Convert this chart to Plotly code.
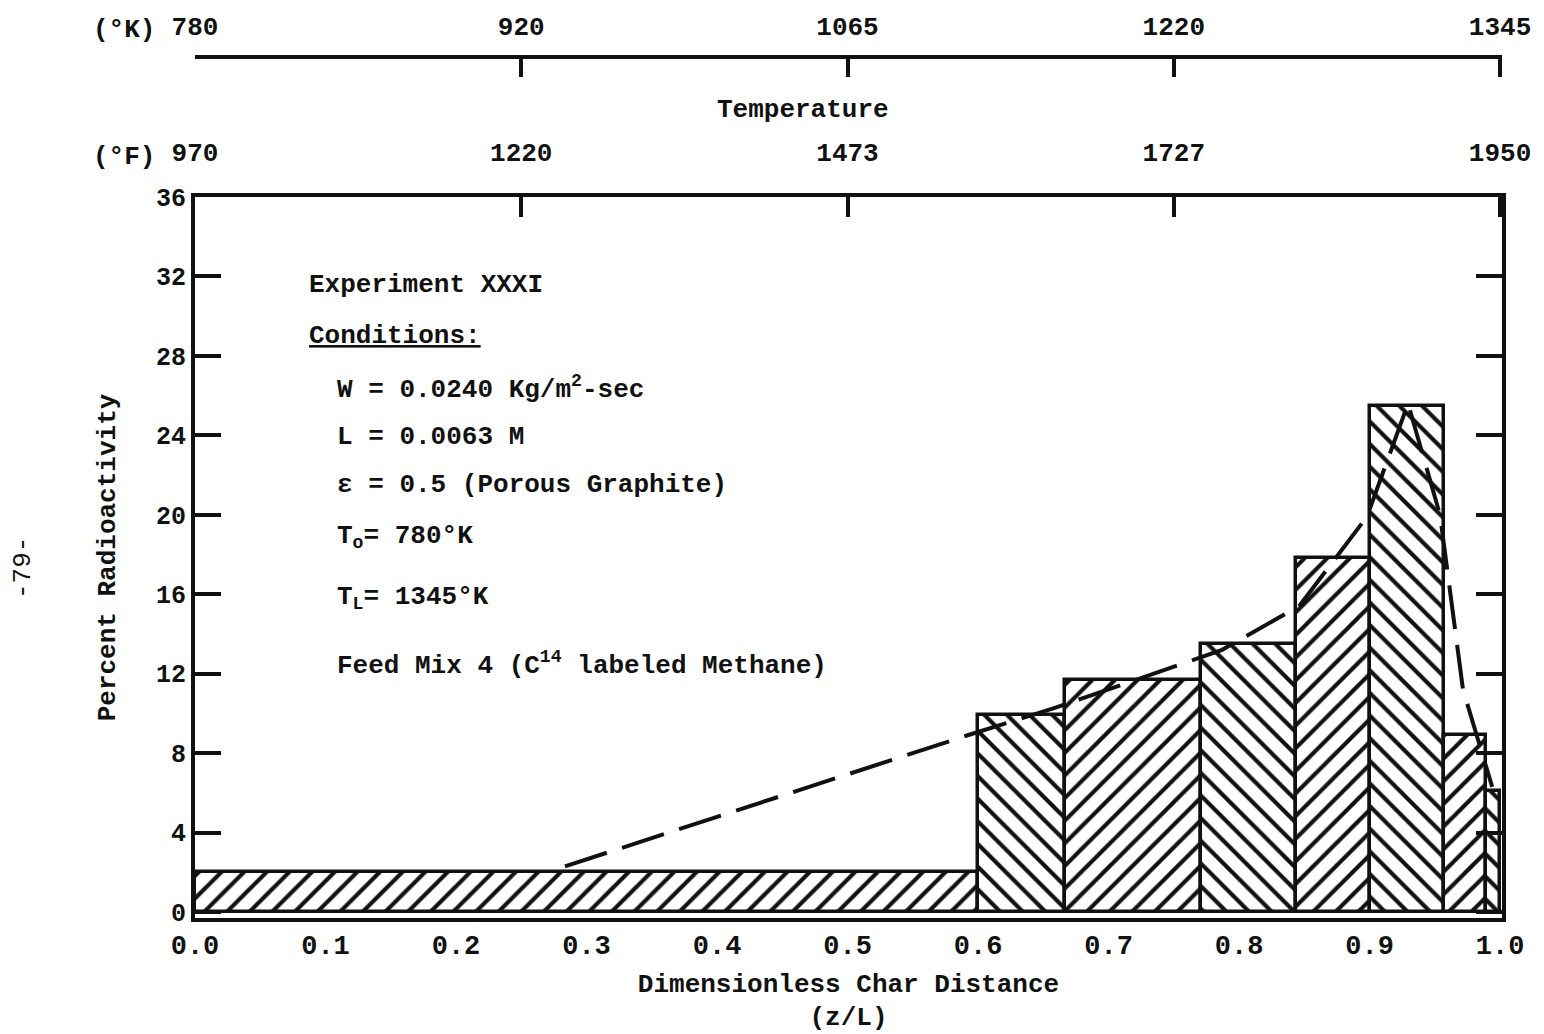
import numpy as np
import plotly.graph_objects as go

# ---- data -------------------------------------------------------------
# histogram bins along the char (z/L) and percent radioactivity per bin
bin_edges = [0.0, 0.6, 0.667, 0.771, 0.844, 0.9, 0.957, 0.989, 1.0]
percent_activity = [2.0, 9.9, 11.7, 13.5, 17.8, 25.5, 8.9, 6.1]
hatch = ["/", "\\", "/", "\\", "/", "\\", "/", "\\"]

# dashed trend curve through the distribution
curve_z = [0.2835, 0.592, 0.660, 0.717, 0.787, 0.846, 0.898, 0.9295, 0.954, 0.9716, 0.994]
curve_pct = [2.3, 8.9, 10.3, 11.6, 13.2, 15.4, 19.9, 25.6, 20.0, 11.2, 6.3]

# temperature scales (top)
temp_pos = [0.0, 0.25, 0.5, 0.75, 1.0]
temp_K = ["780", "920", "1065", "1220", "1345"]
temp_F = ["970", "1220", "1473", "1727", "1950"]

x_ticks = [round(0.1 * i, 1) for i in range(11)]
x_ticktext = [f"{v:.1f}" for v in x_ticks]
y_ticks = list(range(0, 37, 4))

FONT = "Liberation Mono"
INK = "#111111"

edges = np.array(bin_edges)
centers = (edges[:-1] + edges[1:]) / 2
widths = np.diff(edges)

fig = go.Figure()

fig.add_trace(go.Bar(
    x=centers, y=percent_activity, width=widths,
    marker=dict(
        color="white",
        line=dict(color=INK, width=3.5),
        pattern=dict(shape=hatch, fgcolor=INK, bgcolor="white",
                     size=16, solidity=0.26, fillmode="replace"),
    ),
    showlegend=False, hoverinfo="skip",
))

fig.add_trace(go.Scatter(
    x=curve_z, y=curve_pct, mode="lines",
    line=dict(color=INK, width=4, dash="44px,16px"),
    showlegend=False, hoverinfo="skip",
))

# empty traces so the two temperature axes are laid out
fig.add_trace(go.Scatter(x=[], y=[], xaxis="x2", showlegend=False))
fig.add_trace(go.Scatter(x=[], y=[], xaxis="x3", showlegend=False))

W, H = 1544, 1034
L_M, R_M, T_M, B_M = 195, 42, 10, 116
plot_h = H - T_M - B_M
y_top = (918 - 197) / plot_h
k_pos = (918 - 57) / plot_h
xr = [0, 1.0015]

tick_font = dict(family=FONT, size=26, color=INK, weight="bold")

fig.update_layout(
    width=W, height=H,
    margin=dict(l=L_M, r=R_M, t=T_M, b=B_M, autoexpand=False),
    paper_bgcolor="white", plot_bgcolor="white",
    bargap=0,
    xaxis=dict(
        range=xr, domain=[0, 1], anchor="y",
        showline=True, linewidth=4, linecolor=INK,
        ticks="", tickvals=x_ticks, ticktext=x_ticktext,
        tickfont=dict(family=FONT, size=27, color=INK, weight="bold"),
        showgrid=False, zeroline=False,
        title=dict(text="<b>Dimensionless Char Distance</b><br><b>(z/L)</b>",
                   font=dict(family=FONT, size=26, color=INK), standoff=13),
    ),
    xaxis2=dict(
        range=xr, overlaying="x", side="top", anchor="y",
        showline=True, linewidth=4, linecolor=INK,
        ticks="inside", ticklen=20, tickwidth=4, tickcolor=INK,
        tickvals=temp_pos, ticktext=temp_F, tickfont=tick_font,
        ticklabelstandoff=22,
        showgrid=False, zeroline=False,
    ),
    xaxis3=dict(
        range=xr, overlaying="x", side="top", anchor="free", position=k_pos,
        showline=True, linewidth=4, linecolor=INK,
        ticks="inside", ticklen=18, tickwidth=4, tickcolor=INK,
        tickvals=temp_pos, ticktext=temp_K, tickfont=tick_font,
        ticklabelstandoff=10,
        showgrid=False, zeroline=False,
    ),
    yaxis=dict(
        range=[-0.3, 36], domain=[0, y_top],
        showline=True, linewidth=4, linecolor=INK, mirror="ticks",
        ticks="inside", ticklen=26, tickwidth=3.5, tickcolor=INK,
        tickvals=y_ticks, tickfont=dict(family=FONT, size=25, color=INK, weight="bold"),
        showgrid=False, zeroline=False,
        title=dict(text="<b>Percent Radioactivity</b>",
                   font=dict(family=FONT, size=26, color=INK), standoff=34),
    ),
)


def px(x):
    return (x - L_M) / (W - L_M - R_M)


def py(y):
    return (918 - y) / plot_h


note_font = dict(family=FONT, size=26, color=INK)
notes = [
    ("<b>Experiment XXXI</b>", 307, 285),
    ("<b><u>Conditions:</u></b>", 307, 336),
    ("<b>W = 0.0240 Kg/m<sup>2</sup>-sec</b>", 335, 388),
    ("<b>L = 0.0063 M</b>", 335, 437),
    ("<b>\u03b5 = 0.5 (Porous Graphite)</b>", 335, 485),
    ("<b>T<sub>o</sub>= 780\u00b0K</b>", 335, 537),
    ("<b>T<sub>L</sub>= 1345\u00b0K</b>", 335, 598),
    ("<b>Feed Mix 4 (C<sup>14</sup> labeled Methane)</b>", 335, 664),
]
for text, x, y in notes:
    fig.add_annotation(text=text, x=px(x), y=py(y), xref="paper", yref="paper",
                       xanchor="left", yanchor="middle", showarrow=False, font=note_font)

for text, x, y in [("<b>(\u00b0K)</b>", 124, 30), ("<b>(\u00b0F)</b>", 124, 157),
                   ("<b>Temperature</b>", 803, 110)]:
    fig.add_annotation(text=text, x=px(x), y=py(y), xref="paper", yref="paper",
                       xanchor="center", yanchor="middle", showarrow=False, font=note_font)

fig.add_annotation(text="-79-", x=px(6), y=py(568), xref="paper", yref="paper",
                   textangle=-90, showarrow=False,
                   font=dict(family=FONT, size=26, color=INK))

fig.write_html("out.html")
